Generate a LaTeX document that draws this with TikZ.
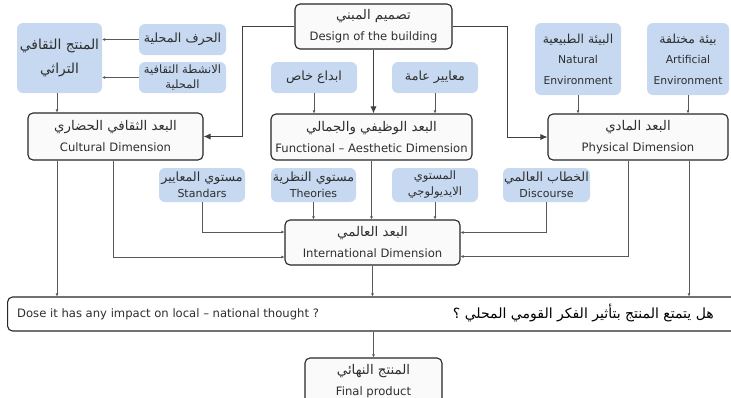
\documentclass[tikz,border=0pt]{standalone}
\usepackage{fontspec}
\setmainfont{DejaVu Sans}
\newfontfamily\arabicfont[Script=Arabic,Scale=1.15]{DejaVu Sans}
\TeXXeTstate=1
\newcommand\artxt[1]{{\arabicfont\beginR #1\endR}}
\usetikzlibrary{arrows.meta}
\definecolor{blueF}{HTML}{C6D9F1}
\definecolor{txtC}{HTML}{2E2E2E}
\tikzset{
  mainbox/.style={draw=black!85, line width=1.1pt, rounded corners=5pt, fill=gray!4,
    align=center, text=txtC, font=\fontsize{11.6}{21}\selectfont, inner sep=1pt},
  bluebox/.style={fill=blueF, rounded corners=6pt, align=center, text=txtC,
    font=\fontsize{10.8}{20.5}\selectfont, inner sep=1pt},
  conn/.style={draw=black!65, line width=0.6pt, -{Latex[length=3pt,width=3pt]}},
  bigarrow/.style={draw=black!75, line width=0.8pt, -{Latex[length=7pt,width=6pt]}},
  sz/.style 2 args={minimum width=#1pt, minimum height=#2pt}
}
\begin{document}
\begin{tikzpicture}[x=1pt,y=-1pt]
\useasboundingbox (0,0) rectangle (731,397);
\clip (0,0) rectangle (731,397);
% helper coordinates for vertical lines
\coordinate (xa) at (57,0);
\coordinate (xb) at (113,0);
\coordinate (xc) at (628,0);
\coordinate (xd) at (689,0);
\coordinate (dl) at (242,26.5);
\coordinate (dr) at (507,26.5);

% top row
\node[mainbox, sz={157}{45}] (design) at (373.5,26.5) {\artxt{تصميم المبني}\\Design of the building};
\node[bluebox, sz={85}{70}, font=\fontsize{12}{24}\selectfont] (heritage) at (59.5,58) {\artxt{المنتج الثقافي}\\\artxt{التراثي}};
\node[bluebox, sz={87}{31}, font=\fontsize{11}{14}\selectfont] (crafts) at (182.5,39.5) {\artxt{الحرف المحلية}};
\node[bluebox, sz={87}{31}, font=\fontsize{10}{15}\selectfont] (activities) at (182.5,77.5) {\artxt{الانشطة الثقافية}\\\artxt{المحلية}};
\node[bluebox, sz={86}{31}, font=\fontsize{11}{14}\selectfont] (creativity) at (314,77.5) {\artxt{ابداع خاص}};
\node[bluebox, sz={86}{31}, font=\fontsize{11}{14}\selectfont] (generalstd) at (435,77.5) {\artxt{معايير عامة}};
\node[bluebox, sz={86}{72}] (natural) at (578,59) {\artxt{البيئة الطبيعية}\\Natural\\Environment};
\node[bluebox, sz={82}{72}] (artificial) at (688,59) {\artxt{بيئة مختلفة}\\Artificial\\Environment};

% dimensions row
\node[mainbox, sz={175}{47}] (cultural) at (115.5,136.5) {\artxt{البعد الثقافي الحضاري}\\Cultural Dimension};
\node[mainbox, sz={201}{46}] (functional) at (371.5,137) {\artxt{البعد الوظيفي والجمالي}\\Functional – Aesthetic Dimension};
\node[mainbox, sz={180}{46}] (physical) at (638,137) {\artxt{البعد المادي}\\Physical Dimension};

% levels row
\node[bluebox, sz={86}{34}, font=\fontsize{11}{16}\selectfont] (standards) at (202,185) {\artxt{مستوي المعايير}\\Standars};
\node[bluebox, sz={85}{34}, font=\fontsize{11}{16}\selectfont] (theories) at (313.5,185) {\artxt{مستوي النظرية}\\Theories};
\node[bluebox, sz={86}{34}, font=\fontsize{10}{16}\selectfont] (ideology) at (435,185) {\artxt{المستوي}\\\artxt{الايديولوجي}};
\node[bluebox, sz={87}{34}, font=\fontsize{11}{16}\selectfont] (discourse) at (546.5,185) {\artxt{الخطاب العالمي}\\Discourse};

% international
\node[mainbox, sz={175}{45}] (intl) at (372.5,242.5) {\artxt{البعد العالمي}\\International Dimension};

% question
\node[mainbox, fill=white, sz={740}{34}, anchor=west] (question) at (7,314) {};
\node[text=txtC, font=\fontsize{11.6}{13}\selectfont, anchor=west, inner sep=0pt] (qen) at (17,314) {Dose it has any impact on local – national thought ?};
\node[text=black, font=\fontsize{12.2}{14}\selectfont, anchor=east, inner sep=0pt] (qar) at (714,313) {\artxt{هل يتمتع المنتج بتأثير الفكر القومي المحلي ؟}};

% final
\node[mainbox, sz={137}{46}] (final) at (373.5,381) {\artxt{المنتج النهائي}\\Final product};

% connectors
\draw[bigarrow] (design.west) -- (dl) |- (cultural.east);
\draw[bigarrow] (design.east) -- (dr) |- (physical.west);
\draw[bigarrow] (design.south) -- (design.south |- functional.north);

\draw[conn] (crafts.west) -- (crafts.west -| heritage.east);
\draw[conn] (activities.west) -- (activities.west -| heritage.east);
\draw[conn] (heritage.south -| xa) -- (cultural.north -| xa);
\draw[conn] (creativity.south) -- (creativity.south |- functional.north);
\draw[conn] (generalstd.south) -- (generalstd.south |- functional.north);
\draw[conn] (natural.south) -- (natural.south |- physical.north);
\draw[conn] (artificial.south) -- (artificial.south |- physical.north);

\draw[conn] (cultural.south -| xa) -- (question.north -| xa);
\draw[conn] (cultural.south -| xb) |- ([yshift=-14.5pt]intl.west);
\draw[conn] (standards.south) |- ([yshift=10.5pt]intl.west);
\draw[conn] (theories.south) -- (theories.south |- intl.north);
\draw[conn] (functional.south) -- (functional.south |- intl.north);
\draw[conn] (ideology.south) -- (ideology.south |- intl.north);
\draw[conn] (discourse.south) |- ([yshift=10pt]intl.east);
\draw[conn] (physical.south -| xc) |- ([yshift=-14pt]intl.east);
\draw[conn] (physical.south -| xd) -- (question.north -| xd);
\draw[conn] (intl.south) -- (intl.south |- question.north);
\draw[conn] (final.north |- question.south) -- (final.north);
\end{tikzpicture}
\end{document}
